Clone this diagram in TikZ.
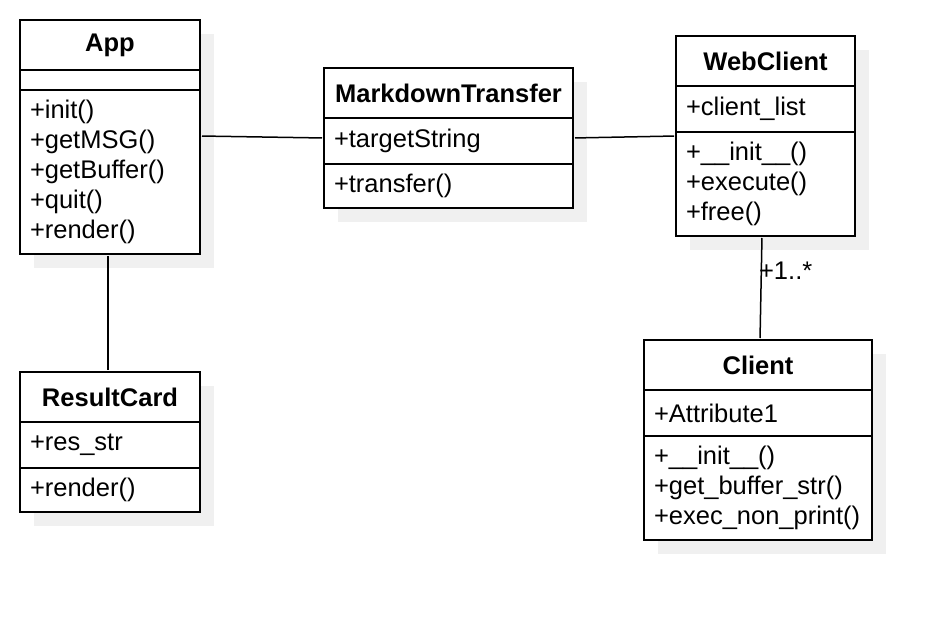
\documentclass[tikz,border=0pt]{standalone}
\usepackage{fontspec}
\setmainfont{Liberation Sans}
\usetikzlibrary{shadows}

\newcommand{\umlfont}{\fontsize{25.5}{30}\selectfont}

\tikzset{
  umlpart/.style={draw, line width=2pt, fill=white, outer sep=0pt, anchor=north west,
    inner xsep=10pt, inner ysep=0pt, text width=#1, align=left, font=\umlfont,
    drop shadow={shadow xshift=14pt, shadow yshift=-14pt, fill=black!6, opacity=1}},
  umlhead/.style={umlpart=#1, minimum height=50pt, align=center, font=\umlfont\bfseries},
  assoc/.style={line width=1.5pt, shorten <=2pt, shorten >=2pt},
  mult/.style={right, inner sep=0pt, xshift=-3pt, font=\umlfont}
}

\begin{document}
\begin{tikzpicture}[x=1pt, y=-1pt]
  \useasboundingbox (0,0) rectangle (952,620);
  % App
  \node[umlhead=160pt] (app-head) at (20,20) {App};
  \node[umlpart=160pt, minimum height=20pt] (app-attr) at (app-head.south west) {};
  \node[umlpart=160pt, minimum height=164pt] (app-ops) at (app-attr.south west)
    {+init()\\+getMSG()\\+getBuffer()\\+quit()\\+render()};
  % MarkdownTransfer
  \node[umlhead=229pt] (mt-head) at (324,68) {MarkdownTransfer};
  \node[umlpart=229pt, minimum height=46pt] (mt-attr) at (mt-head.south west) {+targetString};
  \node[umlpart=229pt, minimum height=44pt] (mt-ops) at (mt-attr.south west) {+transfer()};
  % WebClient
  \node[umlhead=159pt] (wc-head) at (676,36) {WebClient};
  \node[umlpart=159pt, minimum height=46pt] (wc-attr) at (wc-head.south west) {+client\_list};
  \node[umlpart=159pt, minimum height=104pt] (wc-ops) at (wc-attr.south west)
    {+\_\_init\_\_()\\+execute()\\+free()};
  % ResultCard
  \node[umlhead=160pt] (rc-head) at (20,372) {ResultCard};
  \node[umlpart=160pt, minimum height=46pt] (rc-attr) at (rc-head.south west) {+res\_str};
  \node[umlpart=160pt, minimum height=44pt] (rc-ops) at (rc-attr.south west) {+render()};
  % Client
  \node[umlhead=208pt] (cl-head) at (644,340) {Client};
  \node[umlpart=208pt, minimum height=46pt] (cl-attr) at (cl-head.south west) {+Attribute1};
  \node[umlpart=208pt, minimum height=104pt] (cl-ops) at (cl-attr.south west)
    {+\_\_init\_\_()\\+get\_buffer\_str()\\+exec\_non\_print()};

  % associations
  \draw[assoc] ([yshift=-46pt]app-ops.north east) -- ([yshift=3pt]mt-attr.west);
  \draw[assoc] ([yshift=3pt]mt-attr.east) -- ([yshift=-4pt]wc-attr.south west);
  \draw[assoc] ([xshift=-2pt]app-ops.south) -- ([xshift=-2pt]rc-head.north);
  \draw[assoc] ([xshift=-3.5pt]wc-ops.south) -- ([xshift=2pt]cl-head.north)
    node[mult, pos=.33] (wc-mult) {+1..*};
\end{tikzpicture}
\end{document}
